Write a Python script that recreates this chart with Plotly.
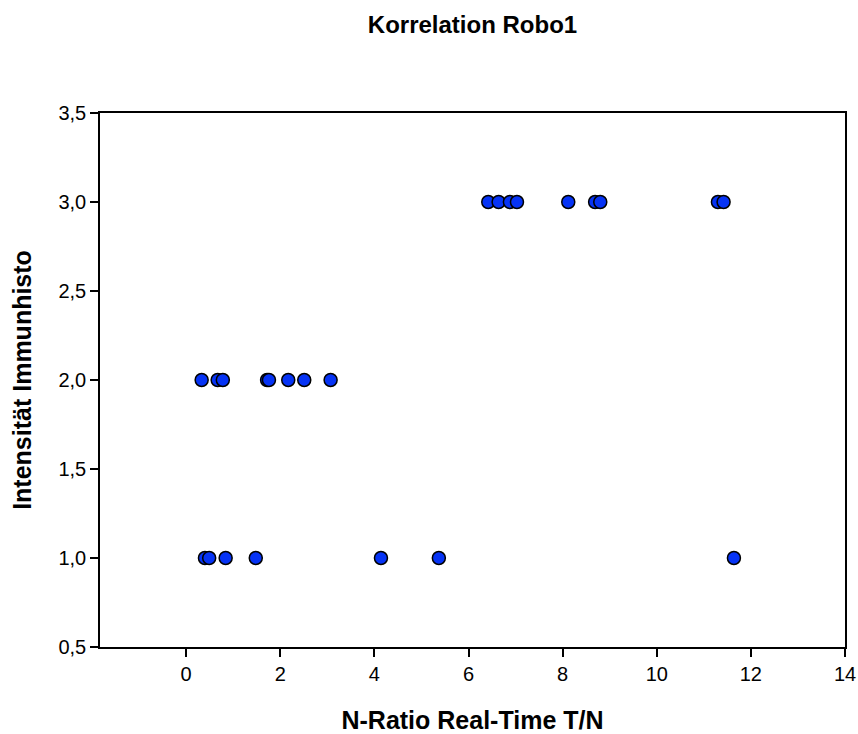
import plotly.graph_objects as go

# Data
x_int1 = [0.40, 0.49, 0.84, 1.48, 4.14, 5.37, 11.64]
x_int2 = [0.33, 0.67, 0.78, 1.72, 1.76, 2.17, 2.51, 3.07]
x_int3 = [6.42, 6.64, 6.88, 7.03, 8.12, 8.69, 8.80, 11.30, 11.42]

xs = x_int1 + x_int2 + x_int3
ys = [1.0] * len(x_int1) + [2.0] * len(x_int2) + [3.0] * len(x_int3)

title_text = "Korrelation Robo1"
x_title = "N-Ratio Real-Time T/N"
y_title = "Intensität Immunhisto"
x_ticks = [0, 2, 4, 6, 8, 10, 12, 14]
y_ticks = [0.5, 1.0, 1.5, 2.0, 2.5, 3.0, 3.5]

FONT = "Liberation Sans, Arial, sans-serif"

fig = go.Figure(
    go.Scatter(
        x=xs, y=ys, mode="markers",
        marker=dict(size=13, color="#0633f5", line=dict(color="black", width=1.5)),
        showlegend=False,
    )
)

fig.update_layout(
    width=858, height=734,
    margin=dict(l=100, r=13, t=113, b=87),
    paper_bgcolor="white", plot_bgcolor="white",
    separators=",.",
    font=dict(family=FONT, color="black", size=20),
    title=dict(
        text="<b>" + title_text + "</b>",
        x=(100 + 845) / 2 / 858, xanchor="center",
        y=1 - 25 / 734, yanchor="middle", yref="container",
        font=dict(family=FONT, size=24, color="black"),
    ),
)

fig.update_xaxes(
    range=[-1.83, 14], tickvals=x_ticks, ticks="outside", ticklen=8, tickwidth=1.5,
    tickcolor="black", showline=True, linecolor="black", linewidth=1.5, mirror=True,
    showgrid=False, zeroline=False, automargin=False,
    tickfont=dict(family=FONT, size=20, color="black"),
    title=dict(text="<b>" + x_title + "</b>", standoff=28,
               font=dict(family=FONT, size=25, color="black")),
)
fig.update_yaxes(
    range=[0.5, 3.5], tickvals=y_ticks, tickformat=".1f", ticks="outside", ticklen=8,
    tickwidth=1.5, tickcolor="black", showline=True, linecolor="black", linewidth=1.5,
    mirror=True, showgrid=False, zeroline=False, automargin=False,
    tickfont=dict(family=FONT, size=20, color="black"),
    title=dict(text="<b>" + y_title + "</b>", standoff=20,
               font=dict(family=FONT, size=25, color="black")),
)

fig.write_html("out.html")
